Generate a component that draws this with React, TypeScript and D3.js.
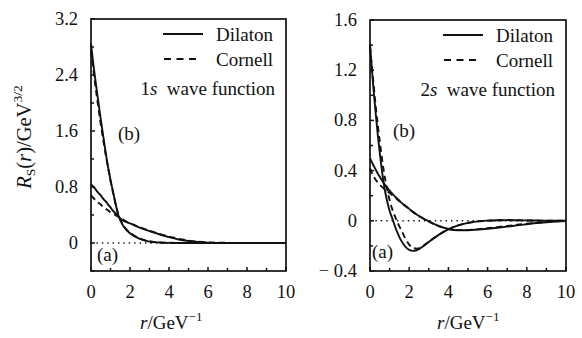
import React from "react";
import * as d3 from "d3";

// ---------- data ----------
const xTicks = [0, 2, 4, 6, 8, 10];
const seriesNames = ["Dilaton", "Cornell"];

// 1s panel
const r1s = [0, 0.1, 0.2, 0.3, 0.4, 0.5, 0.6, 0.7, 0.8, 0.9, 1.0, 1.1, 1.2, 1.3, 1.4, 1.6, 1.8, 2.0, 2.5, 3.0, 3.5, 4.0, 4.5, 5.0, 5.5, 6.0, 7.0, 8.0, 10.0];
const dilatonB1s = [2.85, 2.6, 2.38, 2.17, 1.97, 1.77, 1.58, 1.39, 1.21, 1.05, 0.9, 0.77, 0.64, 0.51, 0.4, 0.27, 0.19, 0.14, 0.06, 0.02, 0.007, 0.002, 0, 0, 0, 0, 0, 0, 0];
const cornellB1s = [2.75, 2.52, 2.3, 2.09, 1.89, 1.7, 1.52, 1.35, 1.19, 1.04, 0.89, 0.76, 0.63, 0.51, 0.41, 0.28, 0.2, 0.15, 0.065, 0.025, 0.009, 0.003, 0.001, 0, 0, 0, 0, 0, 0];
const dilatonA1s = [0.84, 0.81, 0.78, 0.74, 0.71, 0.68, 0.64, 0.61, 0.58, 0.54, 0.51, 0.47, 0.44, 0.41, 0.38, 0.33, 0.3, 0.28, 0.22, 0.17, 0.125, 0.085, 0.05, 0.028, 0.014, 0.006, 0.001, 0, 0];
const cornellA1s = [0.68, 0.65, 0.62, 0.6, 0.57, 0.55, 0.52, 0.5, 0.48, 0.46, 0.44, 0.42, 0.41, 0.39, 0.375, 0.34, 0.31, 0.285, 0.225, 0.175, 0.13, 0.092, 0.06, 0.035, 0.018, 0.008, 0.002, 0, 0];
const yLabels1s = [0, 0.8, 1.6, 2.4, 3.2];
const yMinor1s = [-0.4, 0.4, 1.2, 2.0, 2.8];

// 2s panel
const r2s = [0, 0.1, 0.2, 0.3, 0.4, 0.5, 0.6, 0.7, 0.8, 0.9, 1.0, 1.1, 1.2, 1.3, 1.4, 1.5, 1.6, 1.8, 2.0, 2.2, 2.4, 2.6, 2.8, 3.0, 3.5, 4.0, 4.5, 5.0, 5.5, 6.0, 6.5, 7.0, 7.5, 8.0, 8.5, 9.0, 9.5, 10];
const dilatonB2s = [1.41, 1.2, 1.01, 0.84, 0.68, 0.54, 0.41, 0.3, 0.21, 0.14, 0.08, 0.035, -0.01, -0.055, -0.095, -0.13, -0.16, -0.205, -0.232, -0.24, -0.233, -0.215, -0.192, -0.168, -0.112, -0.068, -0.036, -0.016, -0.005, 0.001, 0.004, 0.005, 0.004, 0.003, 0.002, 0.001, 0.0005, 0];
const cornellB2s = [1.39, 1.22, 1.06, 0.9, 0.76, 0.63, 0.51, 0.4, 0.31, 0.23, 0.165, 0.11, 0.065, 0.025, -0.01, -0.045, -0.075, -0.14, -0.19, -0.217, -0.222, -0.21, -0.19, -0.167, -0.112, -0.068, -0.036, -0.016, -0.005, 0.001, 0.004, 0.005, 0.004, 0.003, 0.002, 0.001, 0.0005, 0];
const dilatonA2s = [0.5, 0.465, 0.435, 0.405, 0.375, 0.35, 0.325, 0.3, 0.28, 0.26, 0.24, 0.222, 0.205, 0.19, 0.175, 0.16, 0.145, 0.12, 0.095, 0.07, 0.048, 0.03, 0.012, -0.004, -0.04, -0.065, -0.075, -0.075, -0.07, -0.063, -0.055, -0.046, -0.036, -0.027, -0.018, -0.011, -0.005, -0.001];
const cornellA2s = [0.42, 0.38, 0.35, 0.325, 0.305, 0.288, 0.272, 0.258, 0.245, 0.233, 0.222, 0.21, 0.197, 0.184, 0.17, 0.156, 0.143, 0.118, 0.093, 0.069, 0.047, 0.028, 0.01, -0.006, -0.042, -0.066, -0.074, -0.073, -0.067, -0.059, -0.05, -0.041, -0.032, -0.023, -0.015, -0.008, -0.003, 0];
const yLabels2s = [-0.4, 0, 0.4, 0.8, 1.2, 1.6];
const yMinor2s = [-0.2, 0.2, 0.6, 1.0, 1.4];

// ---------- drawing ----------
const FONT = "'Liberation Serif', 'Times New Roman', serif";
const INK = "#111";

type PanelProps = {
  x0: number; x1: number; y0: number; y1: number;
  yDomain: [number, number];
  yLabels: number[]; yMinor: number[];
  r: number[];
  curves: { values: number[]; dashed: boolean }[];
  stateLabel: string;
  bPos: [number, number]; aPos: [number, number];
  xTitleX: number;
};

function fmt(v: number) {
  if (v < 0) return "\u2212 " + Math.abs(v).toString();
  return v.toString();
}

function Panel(p: PanelProps) {
  const x = d3.scaleLinear().domain([0, 10]).range([p.x0, p.x1]);
  const y = d3.scaleLinear().domain(p.yDomain).range([p.y1, p.y0]);
  const line = d3
    .line<number>()
    .x((_, i) => x(p.r[i]))
    .y((d) => y(d))
    .curve(d3.curveMonotoneX);
  const minorX = d3.range(0, 11);
  return (
    <g fontFamily={FONT} fill={INK}>
      <line x1={x(0)} x2={x(10)} y1={y(0)} y2={y(0)} stroke={INK} strokeWidth={1.4} strokeDasharray="1.4,4" />
      {p.curves.map((c, i) => (
        <path key={i} d={line(c.values) || ""} fill="none" stroke={INK} strokeWidth={1.9}
          strokeDasharray={c.dashed ? "6,4" : undefined} />
      ))}
      <rect x={p.x0} y={p.y0} width={p.x1 - p.x0} height={p.y1 - p.y0} fill="none" stroke={INK} strokeWidth={1.7} />
      {minorX.map((t) => (
        <line key={"xt" + t} x1={x(t)} x2={x(t)} y1={p.y1} y2={p.y1 - (t % 2 === 0 ? 4 : 3)} stroke={INK} strokeWidth={1.5} />
      ))}
      {xTicks.map((t) => (
        <text key={"xl" + t} x={x(t)} y={p.y1 + 27} fontSize={18.5} textAnchor="middle">{t}</text>
      ))}
      {p.yLabels.map((t) => (
        <line key={"yt" + t} x1={p.x0} x2={p.x0 + 4} y1={y(t)} y2={y(t)} stroke={INK} strokeWidth={1.5} />
      ))}
      {p.yMinor.map((t) => (
        <line key={"ym" + t} x1={p.x0} x2={p.x0 + 3} y1={y(t)} y2={y(t)} stroke={INK} strokeWidth={1.5} />
      ))}
      {p.yLabels.map((t) => (
        <text key={"yl" + t} x={p.x0 - 13} y={y(t) + 6} fontSize={18.5} textAnchor="end">{fmt(t)}</text>
      ))}
      <line x1={p.x1 - 123} x2={p.x1 - 83} y1={p.y0 + 15} y2={p.y0 + 15} stroke={INK} strokeWidth={1.9} />
      <text x={p.x1 - 13} y={p.y0 + 22} fontSize={19} textAnchor="end">{seriesNames[0]}</text>
      <line x1={p.x1 - 122} x2={p.x1 - 86} y1={p.y0 + 40} y2={p.y0 + 40} stroke={INK} strokeWidth={1.9} strokeDasharray="7,5.5" />
      <text x={p.x1 - 13} y={p.y0 + 47} fontSize={19} textAnchor="end">{seriesNames[1]}</text>
      <text x={p.x1 - 11} y={p.y0 + 76} fontSize={19} textAnchor="end">
        <tspan>{p.stateLabel[0]}</tspan>
        <tspan fontStyle="italic">{p.stateLabel[1]}</tspan>
        <tspan>{"\u2002wave function"}</tspan>
      </text>
      <text x={p.bPos[0]} y={p.bPos[1]} fontSize={19}>(b)</text>
      <text x={p.aPos[0]} y={p.aPos[1]} fontSize={19}>(a)</text>
      <text x={p.xTitleX} y={329} fontSize={19}>
        <tspan fontStyle="italic">r</tspan>
        <tspan>/GeV</tspan>
        <tspan fontSize={13} dy={-8}>{"\u22121"}</tspan>
      </text>
    </g>
  );
}

export default function App() {
  return (
    <svg width={582} height={338} style={{ position: "absolute", left: 0, top: 0, background: "#fff" }}>
      <rect width={582} height={338} fill="#fff" />
      <Panel
        x0={91} x1={286} y0={19} y1={271}
        yDomain={[-0.4, 3.2]} yLabels={yLabels1s} yMinor={yMinor1s}
        r={r1s}
        curves={[
          { values: dilatonA1s, dashed: false },
          { values: cornellA1s, dashed: true },
          { values: dilatonB1s, dashed: false },
          { values: cornellB1s, dashed: true },
        ]}
        stateLabel="1s" bPos={[118, 140]} aPos={[97, 261]} xTitleX={140}
      />
      <Panel
        x0={370} x1={566} y0={20} y1={271}
        yDomain={[-0.4, 1.6]} yLabels={yLabels2s} yMinor={yMinor2s}
        r={r2s}
        curves={[
          { values: dilatonA2s, dashed: false },
          { values: cornellA2s, dashed: true },
          { values: dilatonB2s, dashed: false },
          { values: cornellB2s, dashed: true },
        ]}
        stateLabel="2s" bPos={[393, 137]} aPos={[372, 258]} xTitleX={437}
      />
      <text transform="translate(31,137) rotate(-90)" fontFamily={FONT} fontSize={20.5} textAnchor="middle" fill={INK}>
        <tspan fontStyle="italic">R</tspan>
        <tspan fontSize={13.5} dy={4}>S</tspan>
        <tspan dy={-4}>(</tspan>
        <tspan fontStyle="italic">r</tspan>
        <tspan>)/GeV</tspan>
        <tspan fontSize={13.5} dy={-9}>3/2</tspan>
      </text>
    </svg>
  );
}
